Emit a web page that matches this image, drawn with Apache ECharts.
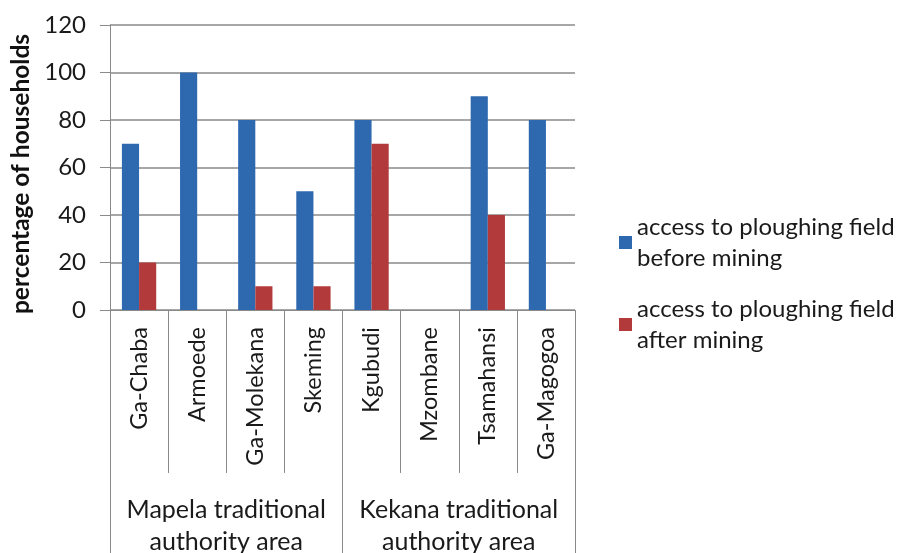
<!DOCTYPE html>
<html>
<head>
<meta charset="utf-8">
<script src="https://cdn.jsdelivr.net/npm/echarts@6/dist/echarts.min.js"></script>
<style>
  html, body { margin: 0; padding: 0; background: #ffffff; }
  #chart { width: 906px; height: 553px; }
</style>
</head>
<body>
<div id="chart"></div>
<script>
// Villages along the x axis, grouped by traditional authority area
const villages = ['Ga-Chaba', 'Armoede', 'Ga-Molekana', 'Skeming', 'Kgubudi', 'Mzombane', 'Tsamahansi', 'Ga-Magogoa'];
const areas = ['Mapela traditional\nauthority area', 'Kekana traditional\nauthority area'];

// Percentage of households with access to a ploughing field
const beforeMining = [70, 100, 80, 50, 80, 0, 90, 80];
const afterMining = [20, 0, 10, 10, 70, 0, 40, 0];

const seriesNames = ['access to ploughing field before mining', 'access to ploughing field after mining'];
const yTicks = { min: 0, max: 120, step: 20 };

const FONT = 'Lato';
const GRID = '#8a8a8a';
const TEXT = '#1a1a1a';

const chart = echarts.init(document.getElementById('chart'), null, { renderer: 'canvas' });

const legendText = {
  fontFamily: FONT,
  fontSize: 24,
  color: TEXT,
  lineHeight: 31,
  padding: [31, 0, 0, 0]
};
const legendFormatter = name => name.replace(' before', '\nbefore').replace(' after', '\nafter');

chart.setOption({
  backgroundColor: '#ffffff',
  animation: false,
  textStyle: { fontFamily: FONT },
  grid: {
    left: 110, right: 331, top: 25, bottom: 243,
    containLabel: false,
    outerBoundsMode: 'none'
  },
  legend: [
    {
      data: [seriesNames[0]],
      left: 614, top: 191,
      itemWidth: 13, itemHeight: 13,
      itemGap: 6,
      icon: 'rect',
      formatter: legendFormatter,
      textStyle: legendText,
      selectedMode: false
    },
    {
      data: [seriesNames[1]],
      left: 614, top: 273,
      itemWidth: 13, itemHeight: 13,
      icon: 'rect',
      formatter: legendFormatter,
      textStyle: legendText,
      selectedMode: false
    }
  ],
  xAxis: [
    {
      type: 'category',
      data: villages,
      boundaryGap: true,
      axisLine: { show: true, lineStyle: { color: GRID, width: 1 } },
      axisTick: { show: true, interval: 0, length: 163, lineStyle: { color: GRID, width: 1 } },
      axisLabel: {
        interval: 0, rotate: 90, margin: 17,
        fontFamily: FONT, fontSize: 23.5, color: TEXT
      },
      splitLine: { show: false }
    },
    {
      type: 'category',
      data: areas,
      position: 'bottom',
      boundaryGap: true,
      axisLine: { show: false },
      axisTick: { show: true, interval: 0, length: 243, lineStyle: { color: GRID, width: 1 } },
      axisLabel: {
        interval: 0, margin: 184,
        fontFamily: FONT, fontSize: 25, color: TEXT, lineHeight: 32
      },
      splitLine: { show: false }
    }
  ],
  yAxis: {
    type: 'value',
    min: yTicks.min, max: yTicks.max, interval: yTicks.step,
    name: 'percentage of households',
    nameLocation: 'middle',
    nameRotate: 90,
    nameGap: 72,
    nameTextStyle: {
      fontFamily: FONT, fontSize: 24.5, fontWeight: 'bold', color: '#111111',
      padding: [0, 13, 0, 0]
    },
    axisLine: { show: true, lineStyle: { color: GRID, width: 1 } },
    axisTick: { show: true, length: 10, lineStyle: { color: GRID, width: 1 } },
    axisLabel: { margin: 24, fontFamily: FONT, fontSize: 24, color: TEXT },
    splitLine: { show: true, lineStyle: { color: GRID, width: 1.5 } }
  },
  series: [
    {
      name: seriesNames[0],
      type: 'bar',
      data: beforeMining,
      itemStyle: { color: '#2E69B0' },
      barCategoryGap: '41%',
      barGap: '0%'
    },
    {
      name: seriesNames[1],
      type: 'bar',
      data: afterMining,
      itemStyle: { color: '#B23A3A' },
      barCategoryGap: '41%',
      barGap: '0%'
    }
  ]
});
</script>
</body>
</html>
